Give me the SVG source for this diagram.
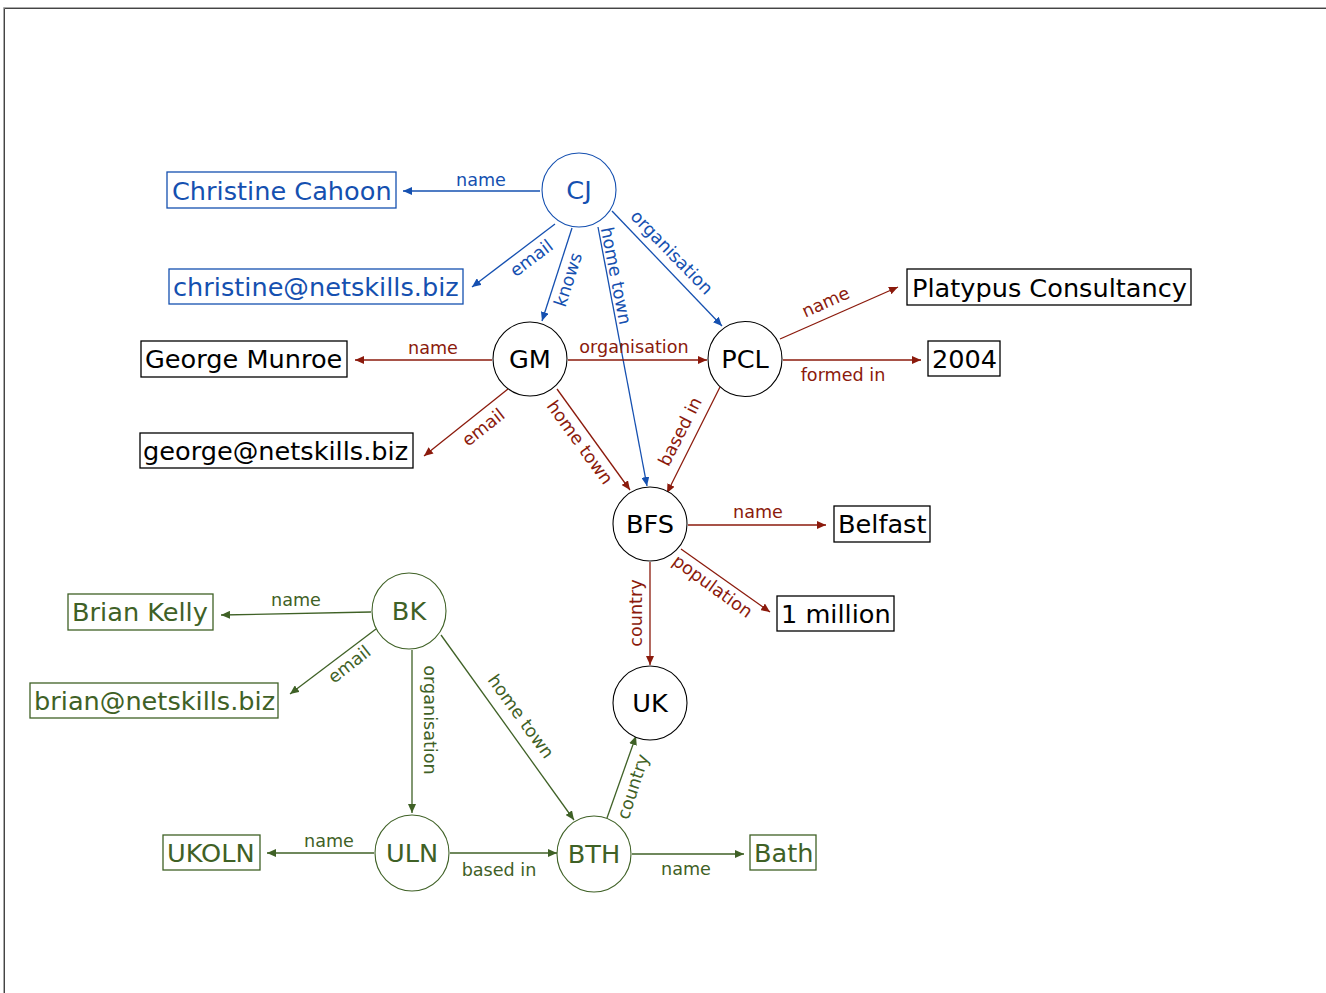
<svg xmlns="http://www.w3.org/2000/svg" width="1326" height="993" viewBox="0 0 1326 993">
  <style>
    text { font-family: "DejaVu Sans", Verdana, sans-serif; }
    .node { font-size: 25.6px; text-anchor: middle; }
    .lit { font-size: 25.6px; }
    .lbl { font-size: 17.6px; text-anchor: middle; }
    .blue { fill: #1550b0; }
    .red { fill: #8b1a0c; }
    .green { fill: #3f6126; }
    .black { fill: #000; }
    .ring { fill: #fff; stroke-width: 1.1; }
    .box { fill: #fff; stroke-width: 1.3; }
    .e { fill: none; stroke-width: 1.3; }
    .eb { stroke: #1550b0; marker-end: url(#ahb); }
    .er { stroke: #8b1a0c; marker-end: url(#ahr); }
    .eg { stroke: #3f6126; marker-end: url(#ahg); }
  </style>
  <defs>
    <marker id="ahb" markerUnits="userSpaceOnUse" markerWidth="10" markerHeight="8" refX="9" refY="4" orient="auto">
      <path d="M0,0 L9,4 L0,8 z" fill="#1550b0"/>
    </marker>
    <marker id="ahr" markerUnits="userSpaceOnUse" markerWidth="10" markerHeight="8" refX="9" refY="4" orient="auto">
      <path d="M0,0 L9,4 L0,8 z" fill="#8b1a0c"/>
    </marker>
    <marker id="ahg" markerUnits="userSpaceOnUse" markerWidth="10" markerHeight="8" refX="9" refY="4" orient="auto">
      <path d="M0,0 L9,4 L0,8 z" fill="#3f6126"/>
    </marker>
  </defs>

  <rect width="1326" height="993" fill="#fff"/>
  <!-- frame -->
  <path d="M3.5,993 V7.5 H1326" fill="none" stroke="#aaa" stroke-width="1"/>
  <path d="M4.5,993 V8.5 H1326" fill="none" stroke="#444" stroke-width="1"/>

  <g id="connectors">
    <!-- CJ -->
    <line class="e eb" x1="540" y1="191" x2="403" y2="191"/>
    <line class="e eb" x1="555" y1="224" x2="472" y2="287"/>
    <line class="e eb" x1="572" y1="228" x2="542" y2="321"/>
    <line class="e eb" x1="598" y1="227" x2="647" y2="486"/>
    <line class="e eb" x1="612" y1="211" x2="722" y2="326"/>
    <!-- GM -->
    <line class="e er" x1="492" y1="360" x2="355" y2="360"/>
    <line class="e er" x1="508" y1="389" x2="424" y2="456"/>
    <line class="e er" x1="568" y1="360" x2="707" y2="360"/>
    <line class="e er" x1="557" y1="389" x2="630" y2="490"/>
    <!-- PCL -->
    <line class="e er" x1="780" y1="339" x2="898" y2="287"/>
    <line class="e er" x1="783" y1="360" x2="921" y2="360"/>
    <line class="e er" x1="720" y1="387" x2="667" y2="493"/>
    <!-- BFS -->
    <line class="e er" x1="688" y1="525" x2="826" y2="525"/>
    <line class="e er" x1="681" y1="549" x2="770" y2="612"/>
    <line class="e er" x1="650" y1="562" x2="650" y2="665"/>
    <!-- BK -->
    <line class="e eg" x1="371" y1="612" x2="221" y2="615"/>
    <line class="e eg" x1="376" y1="629" x2="290" y2="694"/>
    <line class="e eg" x1="412" y1="650" x2="412" y2="813"/>
    <line class="e eg" x1="441" y1="635" x2="574" y2="820"/>
    <!-- ULN / BTH -->
    <line class="e eg" x1="374" y1="853" x2="267" y2="853"/>
    <line class="e eg" x1="450" y1="853" x2="557" y2="853"/>
    <line class="e eg" x1="607" y1="818" x2="636" y2="736"/>
    <line class="e eg" x1="632" y1="854" x2="744" y2="854"/>

    <!-- edge labels -->
    <text class="lbl blue" x="481" y="186">name</text>
    <text class="lbl blue" transform="translate(532,259) rotate(-37)" y="5">email</text>
    <text class="lbl blue" transform="translate(569,280) rotate(-72)" y="5">knows</text>
    <text class="lbl blue" transform="translate(615,276) rotate(79)" y="5">home town</text>
    <text class="lbl blue" transform="translate(671,253) rotate(46)" y="5">organisation</text>

    <text class="lbl red" x="433" y="354">name</text>
    <text class="lbl red" transform="translate(484,428) rotate(-38)" y="5">email</text>
    <text class="lbl red" x="634" y="353">organisation</text>
    <text class="lbl red" transform="translate(579,443) rotate(54)" y="5">home town</text>
    <text class="lbl red" transform="translate(826,303) rotate(-24)" y="5">name</text>
    <text class="lbl red" x="843" y="381">formed in</text>
    <text class="lbl red" transform="translate(681,432) rotate(-63)" y="5">based in</text>
    <text class="lbl red" x="758" y="518">name</text>
    <text class="lbl red" transform="translate(712,587) rotate(36)" y="5">population</text>
    <text class="lbl red" transform="translate(637,613) rotate(-90)" y="5">country</text>

    <text class="lbl green" x="296" y="606">name</text>
    <text class="lbl green" transform="translate(350,665) rotate(-38)" y="5">email</text>
    <text class="lbl green" transform="translate(429,720) rotate(90)" y="5">organisation</text>
    <text class="lbl green" transform="translate(520,717) rotate(54)" y="5">home town</text>
    <text class="lbl green" x="329" y="847">name</text>
    <text class="lbl green" x="499" y="876">based in</text>
    <text class="lbl green" transform="translate(634,787) rotate(-72)" y="5">country</text>
    <text class="lbl green" x="686" y="875">name</text>
  </g>

  <!-- resource nodes -->
  <g id="n-cj"><ellipse class="ring" cx="579" cy="190" rx="37" ry="37" stroke="#1550b0"/><text class="node blue" x="579" y="199">CJ</text></g>
  <g id="n-gm"><ellipse class="ring" cx="530" cy="359" rx="37" ry="37" stroke="#000"/><text class="node black" x="530" y="368">GM</text></g>
  <g id="n-pcl"><ellipse class="ring" cx="745" cy="359" rx="37" ry="37.5" stroke="#000"/><text class="node black" x="745" y="368">PCL</text></g>
  <g id="n-bfs"><ellipse class="ring" cx="650" cy="524" rx="37" ry="37" stroke="#000"/><text class="node black" x="650" y="533">BFS</text></g>
  <g id="n-uk"><ellipse class="ring" cx="650" cy="703" rx="37" ry="37" stroke="#000"/><text class="node black" x="650" y="712">UK</text></g>
  <g id="n-bk"><ellipse class="ring" cx="409" cy="611" rx="37" ry="38" stroke="#3f6126"/><text class="node green" x="409" y="620">BK</text></g>
  <g id="n-uln"><ellipse class="ring" cx="412" cy="853" rx="37" ry="38" stroke="#3f6126"/><text class="node green" x="412" y="862">ULN</text></g>
  <g id="n-bth"><ellipse class="ring" cx="594" cy="854" rx="37" ry="38" stroke="#3f6126"/><text class="node green" x="594" y="863">BTH</text></g>

  <!-- literal nodes -->
  <g id="l-cj-name"><rect class="box" x="167" y="172" width="229" height="36" stroke="#1550b0"/><text class="lit blue" x="172" y="199.5">Christine Cahoon</text></g>
  <g id="l-cj-email"><rect class="box" x="169" y="269" width="294" height="35" stroke="#1550b0"/><text class="lit blue" x="173" y="296">christine@netskills.biz</text></g>
  <g id="l-pcl-name"><rect class="box" x="907" y="269" width="284" height="36" stroke="#000"/><text class="lit black" x="912" y="296.5">Platypus Consultancy</text></g>
  <g id="l-gm-name"><rect class="box" x="141" y="341" width="206" height="36" stroke="#000"/><text class="lit black" x="145" y="368">George Munroe</text></g>
  <g id="l-pcl-year"><rect class="box" x="928" y="341" width="72" height="35" stroke="#000"/><text class="lit black" x="932" y="368">2004</text></g>
  <g id="l-gm-email"><rect class="box" x="140" y="433" width="273" height="35" stroke="#000"/><text class="lit black" x="143" y="460">george@netskills.biz</text></g>
  <g id="l-bfs-name"><rect class="box" x="834" y="506" width="96" height="36" stroke="#000"/><text class="lit black" x="838" y="533">Belfast</text></g>
  <g id="l-bfs-pop"><rect class="box" x="777" y="596" width="117" height="35" stroke="#000"/><text class="lit black" x="781" y="623">1 million</text></g>
  <g id="l-bk-name"><rect class="box" x="68" y="594" width="145" height="36" stroke="#3f6126"/><text class="lit green" x="72" y="621">Brian Kelly</text></g>
  <g id="l-bk-email"><rect class="box" x="30" y="683" width="248" height="35" stroke="#3f6126"/><text class="lit green" x="34" y="710">brian@netskills.biz</text></g>
  <g id="l-uln-name"><rect class="box" x="163" y="835" width="97" height="35" stroke="#3f6126"/><text class="lit green" x="167" y="862">UKOLN</text></g>
  <g id="l-bth-name"><rect class="box" x="750" y="835" width="66" height="35" stroke="#3f6126"/><text class="lit green" x="754" y="862">Bath</text></g>
</svg>
